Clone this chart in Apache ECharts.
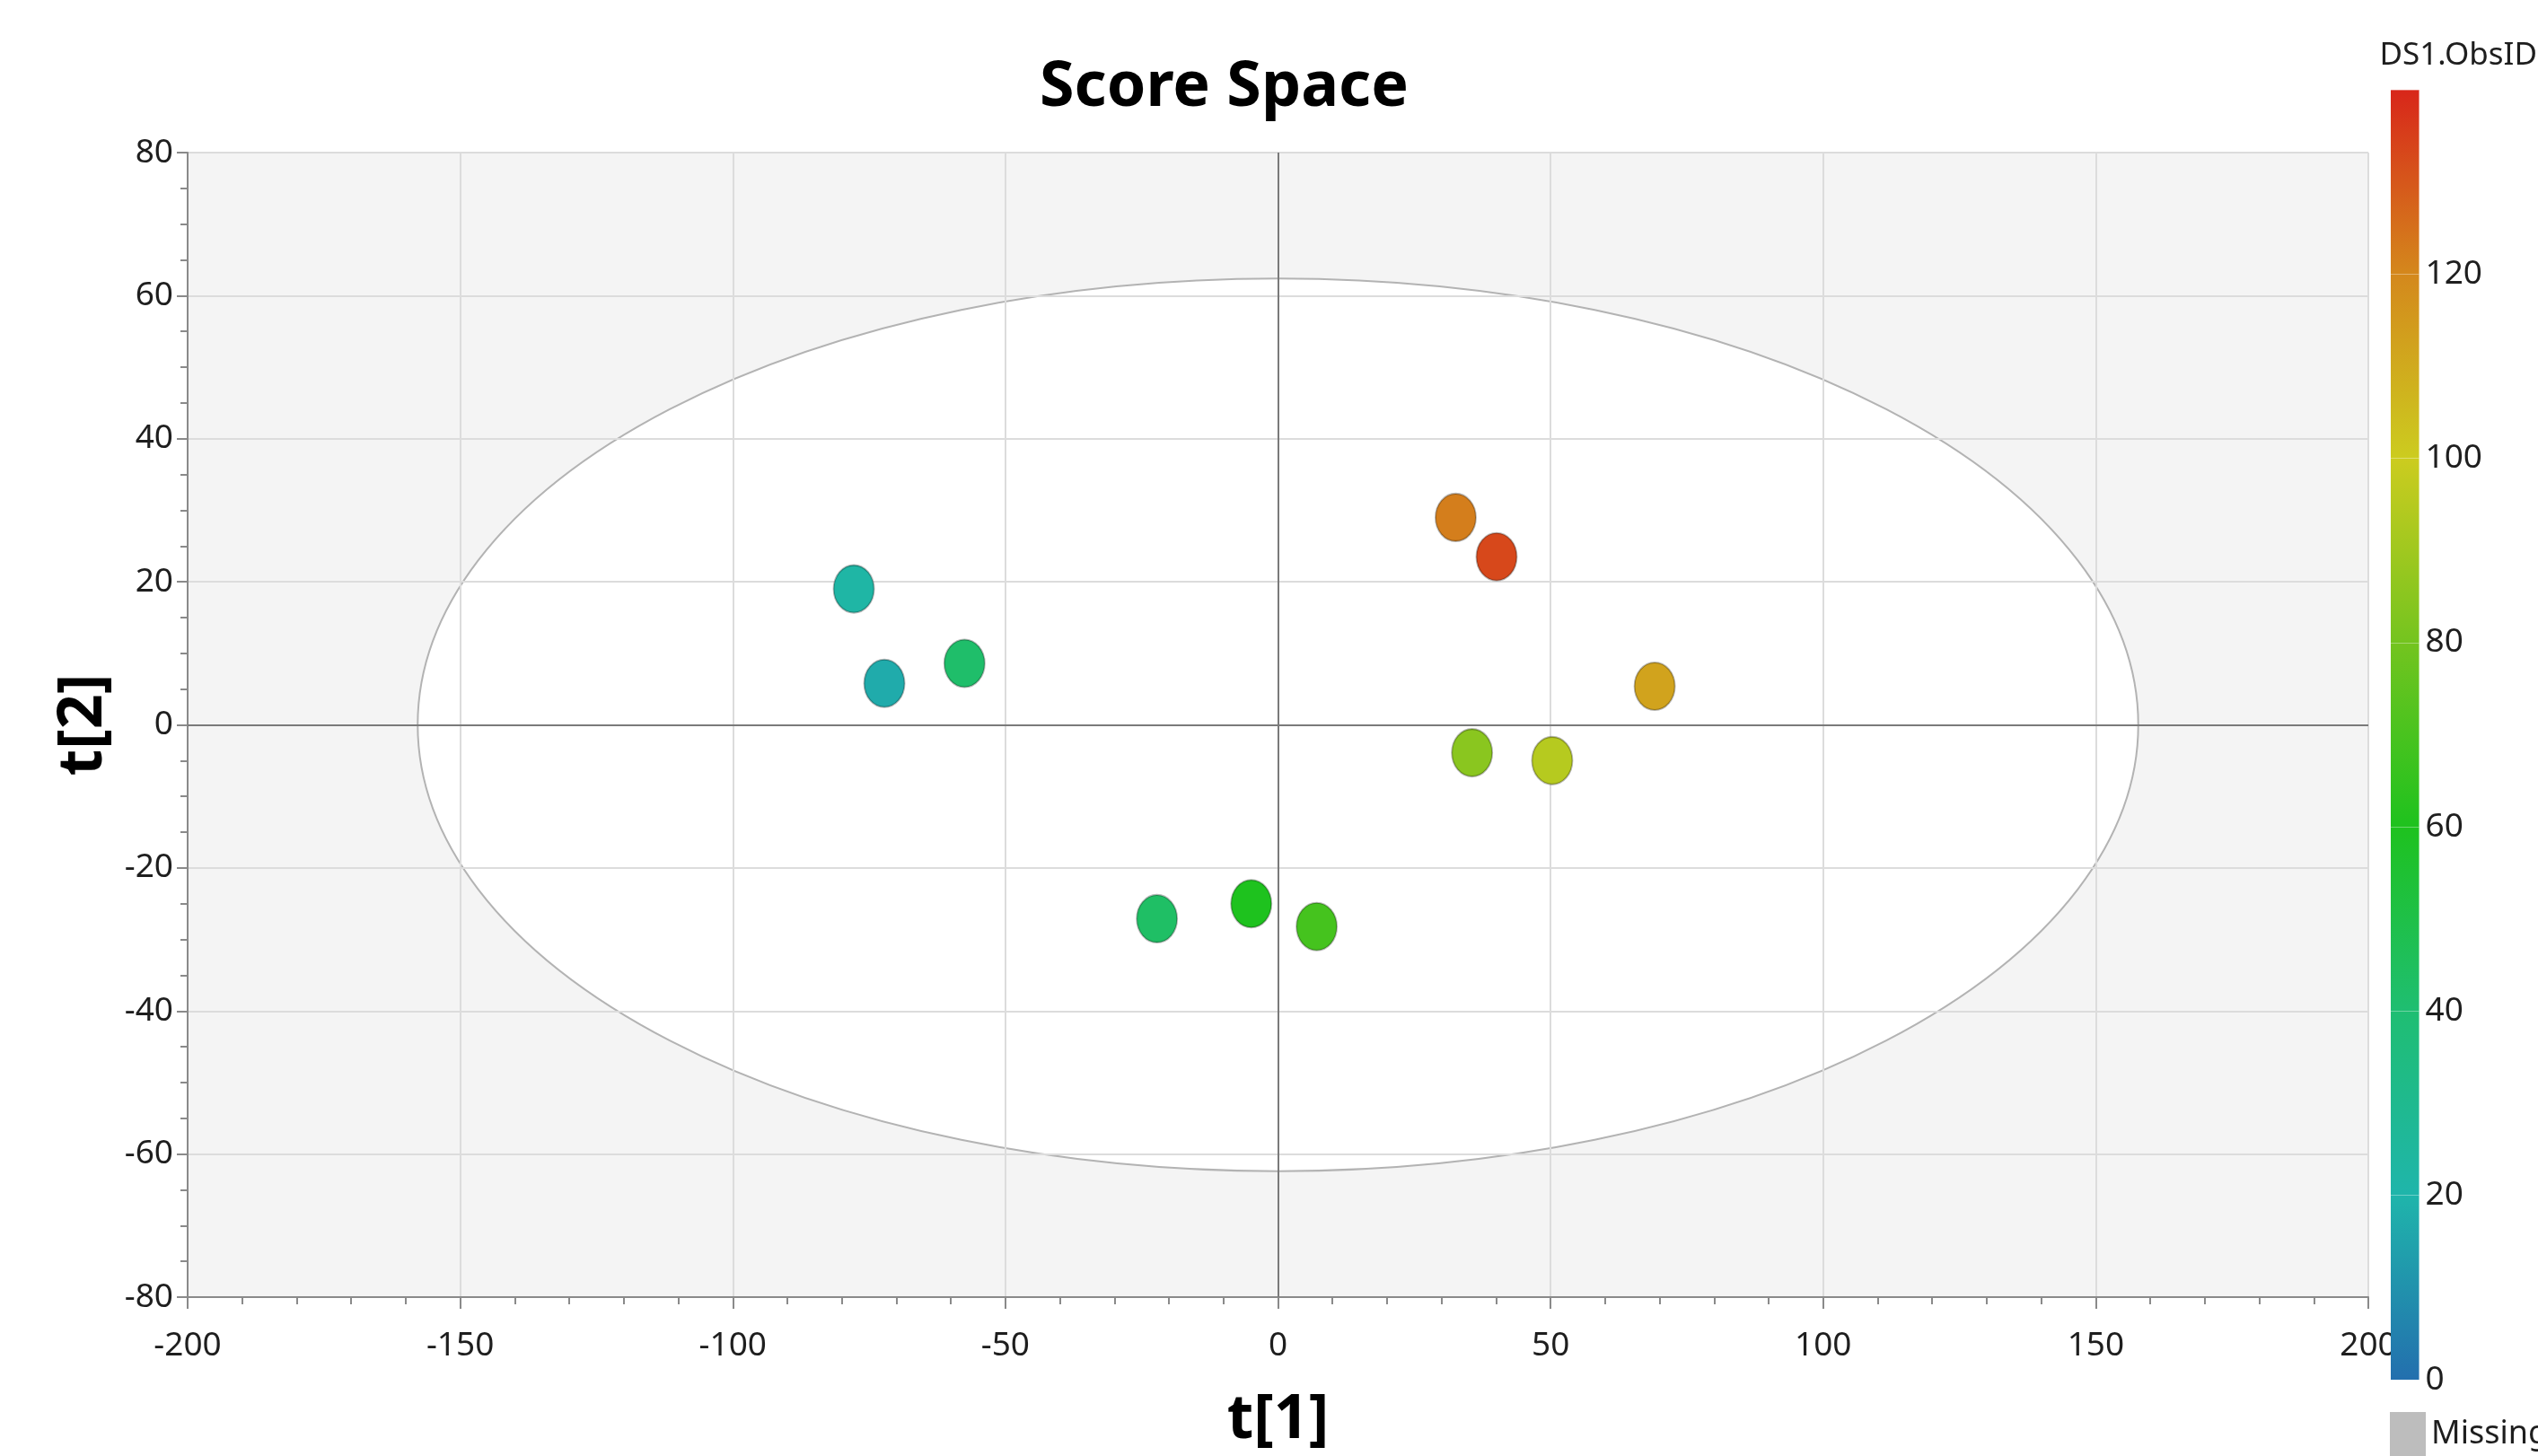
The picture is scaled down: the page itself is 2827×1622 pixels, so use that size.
<!DOCTYPE html>
<html>
<head>
<meta charset="utf-8">
<title>Score Space</title>
<script src="https://cdn.jsdelivr.net/npm/echarts@6/dist/echarts.min.js"></script>
<style>
	html, body { margin: 0; padding: 0; background: #fff; }
	#chart { width: 2827px; height: 1622px; }
</style>
</head>
<body>
<div id="chart"></div>
<script>
// scores, one entry per observation
var t1Scores = [-77.8, -72.2, -57.5, 32.6, 40.1, 69.1, 35.6, 50.3, -22.2, -4.9, 7.1];
var t2Scores = [19.0, 5.8, 8.6, 29.0, 23.5, 5.4, -3.9, -5.0, -27.1, -25.0, -28.2];
var obsIds = [22, 17, 42, 122, 133, 112, 85, 95, 43, 60, 69];

// Hotelling T2 ellipse (centre and semi axes in score units)
var ellipseCenter = [0, 0];
var ellipseRadii = [157.8, 62.4];

// colour scale
var colorMin = 0;
var colorMax = 140;
var colorStep = 20;
var rampColors = ['#236fae', '#1fb5ab', '#1fbe72', '#1ec21e', '#74c41f', '#cccc1f', '#d4881c', '#d8261a'];

var fontFamily = '"Noto Sans", "Open Sans", sans-serif';
var labelColor = '#1e1e1e';
var axisColor = '#8a8a8a';

var scoreData = t1Scores.map(function (t1, i) {
	return [t1, t2Scores[i], obsIds[i]];
});

// gradient of the colour bar, top = max
var barStops = rampColors.map(function (c, i) {
	return { offset: 1 - i / (rampColors.length - 1), color: c };
});

var myChart = echarts.init(document.getElementById('chart'));

var option = {
	animation: false,
	backgroundColor: '#fff',
	title: {
		text: 'Score Space',
		left: 1153,
		top: 58,
		textStyle: {
			fontFamily: fontFamily,
			fontWeight: 'bold',
			fontSize: 70,
			color: '#000'
		}
	},
	visualMap: {
		type: 'continuous',
		show: false,
		min: colorMin,
		max: colorMax,
		dimension: 2,
		seriesIndex: 1,
		inRange: { color: rampColors }
	},
	grid: [
		{
			left: 209,
			right: 189,
			top: 170,
			bottom: 171,
			show: true,
			backgroundColor: '#f4f4f4',
			borderWidth: 0
		},
		{
			// colour bar
			left: 2663,
			width: 38,
			top: 100,
			bottom: 85
		}
	],
	xAxis: [
		{
			type: 'value',
			gridIndex: 0,
			min: -200,
			max: 200,
			interval: 50,
			z: 3,
			name: 't[1]',
			nameLocation: 'middle',
			nameGap: 104,
			nameTextStyle: {
				fontFamily: fontFamily,
				fontWeight: 'bold',
				fontSize: 68,
				color: '#000'
			},
			axisLine: { onZero: false, lineStyle: { color: axisColor, width: 2 } },
			axisTick: { length: 13, lineStyle: { color: axisColor, width: 2 } },
			minorTick: { show: true, splitNumber: 5, length: 8, lineStyle: { color: axisColor, width: 2 } },
			axisLabel: { margin: 36, fontFamily: fontFamily, fontSize: 37, color: labelColor },
			splitLine: { lineStyle: { color: '#dcdcdc', width: 2 } }
		},
		{
			type: 'category',
			gridIndex: 1,
			data: ['DS1.ObsID'],
			show: false
		}
	],
	yAxis: [
		{
			type: 'value',
			gridIndex: 0,
			min: -80,
			max: 80,
			interval: 20,
			z: 3,
			name: 't[2]',
			nameLocation: 'middle',
			nameGap: 76,
			nameTextStyle: {
				fontFamily: fontFamily,
				fontWeight: 'bold',
				fontSize: 68,
				color: '#000'
			},
			axisLine: { onZero: false, lineStyle: { color: axisColor, width: 2 } },
			axisTick: { length: 12, lineStyle: { color: axisColor, width: 2 } },
			minorTick: { show: true, splitNumber: 4, length: 8, lineStyle: { color: axisColor, width: 2 } },
			axisLabel: { margin: 16, fontFamily: fontFamily, fontSize: 37, color: labelColor },
			splitLine: { lineStyle: { color: '#dcdcdc', width: 2 } }
		},
		{
			type: 'value',
			gridIndex: 1,
			min: colorMin,
			max: colorMax,
			interval: colorStep,
			position: 'right',
			zlevel: 1,
			z: 11,
			name: 'DS1.ObsID',
			nameLocation: 'end',
			nameGap: 20,
			nameTextStyle: {
				fontFamily: fontFamily,
				fontSize: 35,
				color: labelColor,
				align: 'left',
				padding: [0, 0, 0, -44]
			},
			axisLine: { show: false },
			axisTick: { show: false },
			axisLabel: {
				margin: 7,
				fontFamily: fontFamily,
				fontSize: 37,
				color: labelColor,
				showMaxLabel: false
			},
			splitLine: { show: true, lineStyle: { color: 'rgba(255,255,255,0.35)', width: 1 } }
		}
	],
	graphic: [
		{
			type: 'rect',
			shape: { x: 2662, y: 1573, width: 40, height: 49 },
			style: { fill: '#bdbdbd' }
		},
		{
			type: 'text',
			x: 2708,
			y: 1580,
			style: {
				text: 'Missing',
				fontFamily: fontFamily,
				fontSize: 36,
				fill: labelColor
			}
		}
	],
	series: [
		{
			// confidence ellipse, white inside, under the grid lines
			type: 'custom',
			xAxisIndex: 0,
			yAxisIndex: 0,
			z: 1,
			silent: true,
			clip: true,
			data: [[ellipseCenter[0], ellipseCenter[1], ellipseRadii[0], ellipseRadii[1]]],
			renderItem: function (params, api) {
				var c = api.coord([api.value(0), api.value(1)]);
				var ex = api.coord([api.value(0) + api.value(2), api.value(1)]);
				var ey = api.coord([api.value(0), api.value(1) + api.value(3)]);
				var rx = ex[0] - c[0];
				var ry = c[1] - ey[1];
				var d = 'M' + (c[0] - rx) + ' ' + c[1] +
					' A' + rx + ' ' + ry + ' 0 1 0 ' + (c[0] + rx) + ' ' + c[1] +
					' A' + rx + ' ' + ry + ' 0 1 0 ' + (c[0] - rx) + ' ' + c[1] + ' Z';
				return {
					type: 'path',
					shape: { pathData: d },
					style: { fill: '#ffffff', stroke: '#b3b3b3', lineWidth: 2 }
				};
			}
		},
		{
			type: 'scatter',
			xAxisIndex: 0,
			yAxisIndex: 0,
			z: 6,
			symbol: 'circle',
			symbolSize: [45, 53],
			itemStyle: {
				borderColor: 'rgba(0,0,0,0.28)',
				borderWidth: 2,
				opacity: 1
			},
			data: scoreData,
			markLine: {
				silent: true,
				symbol: 'none',
				label: { show: false },
				lineStyle: { color: '#7a7a7a', width: 2, type: 'solid' },
				data: [{ xAxis: 0 }, { yAxis: 0 }]
			}
		},
		{
			// colour bar, drawn over the last x label like the original
			type: 'bar',
			xAxisIndex: 1,
			yAxisIndex: 1,
			zlevel: 1,
			z: 10,
			barWidth: '100%',
			silent: true,
			itemStyle: {
				color: new echarts.graphic.LinearGradient(0, 0, 0, 1, barStops)
			},
			data: [colorMax]
		}
	]
};

myChart.setOption(option);
</script>
</body>
</html>
